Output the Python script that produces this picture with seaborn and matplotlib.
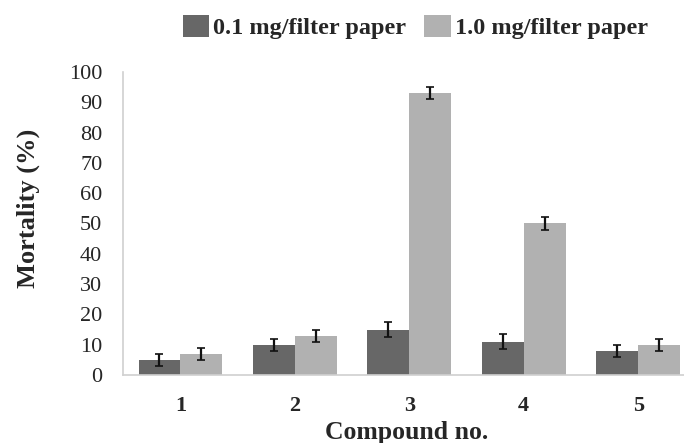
import pandas as pd
import matplotlib.pyplot as plt
import seaborn as sns

# Datos
compounds = ['1', '2', '3', '4', '5']
doses = ['0.1 mg/filter paper', '1.0 mg/filter paper']
low_dose = [5, 10, 15, 11, 8]
high_dose = [7, 13, 93, 50, 10]
low_err = [2, 2, 2.5, 2.5, 2]
high_err = [2, 2, 2, 2, 2]

df = pd.DataFrame({
    'Compound': compounds * 2,
    'Dose': [doses[0]] * 5 + [doses[1]] * 5,
    'Mortality': low_dose + high_dose,
})

sns.set_style('white')
plt.rcParams['font.family'] = ['Liberation Serif', 'DejaVu Serif']

fig = plt.figure(figsize=(6.84, 4.43), dpi=100)
ax = fig.add_axes([0.18, 0.1535, 0.83, 0.684])

sns.barplot(data=df, x='Compound', y='Mortality', hue='Dose',
            palette=['#676767', '#b1b1b1'], errorbar=None,
            width=0.73, gap=0, saturation=1, ax=ax, linewidth=0)

# Barras de error sobre las posiciones de cada barra
errs = low_err + high_err
vals = low_dose + high_dose
for patch, v, e in zip(ax.patches[:10], vals, errs):
    xc = patch.get_x() + patch.get_width() / 2
    ax.errorbar(xc, v, yerr=e, fmt='none', ecolor='#111111',
                elinewidth=1.6, capsize=3, capthick=1.2)

ax.set_ylim(0, 100)
ax.set_xlim(-0.5, 4.46)
ax.set_yticks(range(0, 101, 10))
ax.tick_params(axis='y', labelsize=16, length=0, pad=15)
ax.tick_params(axis='x', labelsize=16, length=0, pad=15)
for lbl in ax.get_xticklabels():
    lbl.set_fontweight('bold')

ax.set_ylabel('Mortality (%)', fontsize=19, fontweight='bold', labelpad=21)
ax.yaxis.label.set_y(0.551)
ax.set_xlabel('Compound no.', fontsize=18.5, fontweight='bold', labelpad=4)

for s in ['top', 'right']:
    ax.spines[s].set_visible(False)
for s in ['left', 'bottom']:
    ax.spines[s].set_color('#d0d0d0')
    ax.spines[s].set_linewidth(1.2)

handles, labels = ax.get_legend_handles_labels()
ax.get_legend().remove()
fig.legend(handles, labels, loc='center', bbox_to_anchor=(0.607, 0.939),
           ncol=2, frameon=False, handlelength=1.1, handleheight=1.0,
           handletextpad=0.15, columnspacing=0.75,
           prop={'size': 17.5, 'weight': 'bold'})

fig.savefig('out.png', dpi=100)
